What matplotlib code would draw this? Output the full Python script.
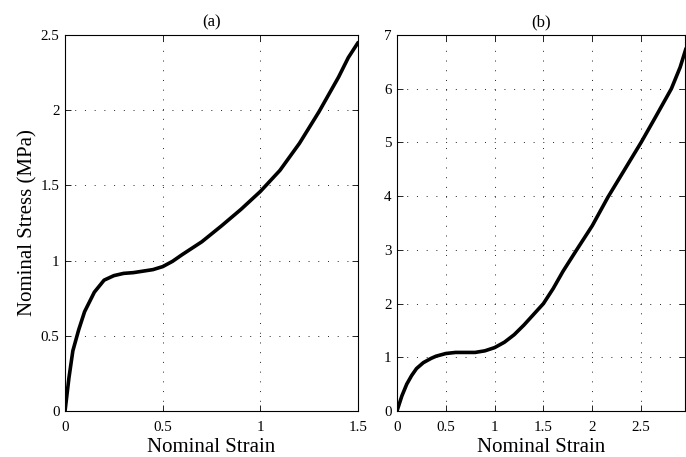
import matplotlib
matplotlib.use('Agg')
import matplotlib.pyplot as plt

plt.rcParams['font.family'] = ['Liberation Serif', 'DejaVu Serif']

# panel (a)
strain_a = [0, 0.02, 0.04, 0.07, 0.10, 0.15, 0.20, 0.25, 0.30, 0.35, 0.40, 0.45,
            0.50, 0.55, 0.60, 0.70, 0.80, 0.90, 1.00, 1.10, 1.20, 1.30, 1.40, 1.45, 1.50]
stress_a = [0, 0.22, 0.40, 0.54, 0.66, 0.79, 0.87, 0.90, 0.915, 0.92, 0.93, 0.94,
            0.96, 0.995, 1.04, 1.125, 1.23, 1.34, 1.46, 1.60, 1.78, 1.99, 2.22, 2.35, 2.45]

# panel (b)
strain_b = [0, 0.05, 0.10, 0.15, 0.20, 0.27, 0.35, 0.40, 0.50, 0.60, 0.70, 0.80, 0.90,
            1.00, 1.10, 1.20, 1.30, 1.40, 1.50, 1.60, 1.70, 1.84, 2.00, 2.16, 2.30,
            2.50, 2.65, 2.81, 2.90, 2.96]
stress_b = [0, 0.28, 0.50, 0.66, 0.79, 0.90, 0.98, 1.02, 1.07, 1.09, 1.09, 1.09, 1.12,
            1.18, 1.28, 1.42, 1.60, 1.80, 2.00, 2.28, 2.60, 3.00, 3.45, 3.98, 4.40,
            5.00, 5.48, 6.00, 6.40, 6.75]

xticks_a = [0, 0.5, 1, 1.5]
yticks_a = [0, 0.5, 1, 1.5, 2, 2.5]
xticks_b = [0, 0.5, 1, 1.5, 2, 2.5]
yticks_b = [0, 1, 2, 3, 4, 5, 6, 7]

fig = plt.figure(figsize=(6.86, 4.57), dpi=100)
ax1 = fig.add_axes([0.0948, 0.1007, 0.4272, 0.8227])
ax2 = fig.add_axes([0.5787, 0.1007, 0.4199, 0.8227])

def style(ax, xt, yt, xlim, ylim, title):
    ax.set_xlim(xlim)
    ax.set_ylim(ylim)
    ax.set_xticks(xt)
    ax.set_yticks(yt)
    ax.set_xticklabels([f'{v:g}' for v in xt])
    ax.set_yticklabels([f'{v:g}' for v in yt])
    ax.tick_params(direction='in', top=True, right=True, length=4, width=0.6,
                   labelsize=10.8)
    ax.tick_params(axis='x', pad=7)
    ax.tick_params(axis='y', pad=4)
    ax.grid(True, linestyle=(0, (1, 9)), color='#222222', linewidth=0.7)
    for s in ax.spines.values():
        s.set_linewidth(0.8)
    ax.set_title(title, fontsize=12, pad=6)
    ax.set_xlabel('Nominal Strain', fontsize=15, labelpad=3)

ax1.plot(strain_a, stress_a, color='black', linewidth=2.6, solid_capstyle='round')
style(ax1, xticks_a, yticks_a, (0, 1.5), (0, 2.5), '(a)')
ax1.set_ylabel('Nominal Stress (MPa)', fontsize=15, labelpad=2)

ax2.plot(strain_b, stress_b, color='black', linewidth=2.6, solid_capstyle='round')
style(ax2, xticks_b, yticks_b, (0, 2.95), (0, 7), '(b)')

fig.savefig('out.png', dpi=100)
